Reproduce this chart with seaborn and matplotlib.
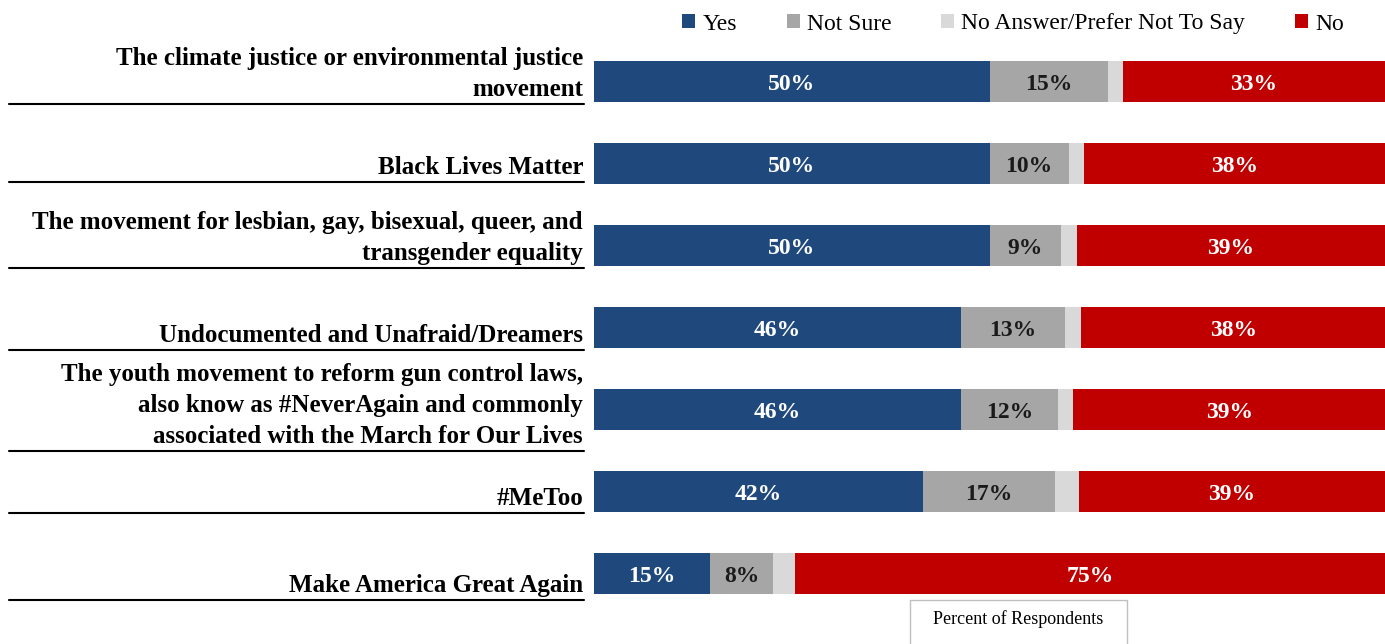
import matplotlib
matplotlib.use("Agg")
import matplotlib.pyplot as plt
import matplotlib.transforms as mtransforms
from matplotlib.patches import Rectangle, Patch
from matplotlib.lines import Line2D
import seaborn as sns
import pandas as pd
import numpy as np

# ---------------- data ----------------
categories = [
    "The climate justice or environmental justice\nmovement",
    "Black Lives Matter",
    "The movement for lesbian, gay, bisexual, queer, and\ntransgender equality",
    "Undocumented and Unafraid/Dreamers",
    "The youth movement to reform gun control laws,\nalso know as #NeverAgain and commonly\nassociated with the March for Our Lives",
    "#MeToo",
    "Make America Great Again",
]
series_names = ["Yes", "Not Sure", "No Answer/Prefer Not To Say", "No"]
yes = [50.0, 50.0, 50.0, 46.4, 46.4, 41.6, 14.7]
not_sure = [15.0, 10.0, 9.0, 13.2, 12.2, 16.7, 7.9]
no_answer = [1.9, 2.0, 2.0, 2.0, 2.0, 3.0, 2.8]
no = [33.1, 38.0, 39.0, 38.4, 39.4, 38.7, 74.6]
xlabel = "Percent of Respondents"

# ---------------- styles ----------------
colors = ["#1F497D", "#A6A6A6", "#D9D9D9", "#C00000"]
label_colors = ["white", "#1a1a1a", None, "white"]
underline_offsets = [0.274, 0.226, 0.274, 0.274, 0.506, 0.262, 0.323]

sns.set_theme(style="white")
plt.rcParams["font.family"] = ["Liberation Serif", "DejaVu Serif"]
plt.rcParams["text.color"] = "black"

W, H = 1385, 644
fig = plt.figure(figsize=(W / 100, H / 100), dpi=100)
ax = fig.add_axes([594 / W, 1 - 614.5 / H, 791 / W, 574 / H])

series = [yes, not_sure, no_answer, no]
df = pd.DataFrame({"category": categories})
cum = np.zeros(len(categories))
lefts = []
for name, vals in zip(series_names, series):
    lefts.append(cum.copy())
    cum = cum + np.array(vals)
    df[name] = cum.copy()

# draw cumulative bars from longest to shortest so they stack visually
for name, col in reversed(list(zip(series_names, colors))):
    sns.barplot(data=df, x=name, y="category", order=categories, orient="h",
                color=col, saturation=1, width=0.5, linewidth=0, ax=ax)

ax.set_xlim(0, 100)
ax.set_ylim(len(categories) - 0.5, -0.5)
for s in ax.spines.values():
    s.set_visible(False)
ax.set_xticks([])
ax.set_yticks([])
ax.set_xlabel("")
ax.set_ylabel("")

# segment labels
for si, (vals, lc) in enumerate(zip(series, label_colors)):
    if lc is None:
        continue
    for i, v in enumerate(vals):
        ax.text(lefts[si][i] + v / 2, i, f"{v:.0f}%", ha="center",
                va="center_baseline", color=lc, fontsize=17, fontweight="bold")

# category labels with underlines
blend = mtransforms.blended_transform_factory(fig.transFigure, ax.transData)
for i, (cat, off) in enumerate(zip(categories, underline_offsets)):
    yline = i + off
    ax.add_line(Line2D([9 / W, 584 / W], [yline, yline], transform=blend,
                       color="black", lw=1.5, clip_on=False))
    ax.annotate(cat, xy=(583 / W, yline), xycoords=blend, xytext=(0, 3),
                textcoords="offset pixels", ha="right", va="bottom",
                fontsize=18, fontweight="bold", linespacing=1.45,
                annotation_clip=False)

# legend
handles = [Patch(facecolor=c, edgecolor="none") for c in colors]
fig.legend(handles, series_names, loc="center", ncol=4,
           bbox_to_anchor=(1013 / W, 1 - 24 / H), frameon=False,
           fontsize=17, handlelength=0.56, handleheight=0.56,
           handletextpad=0.3, columnspacing=2.1, borderaxespad=0)

# x-axis title box
fig.patches.append(Rectangle((910 / W, -0.02), 217 / W, 44 / H + 0.02,
                             transform=fig.transFigure, facecolor="white",
                             edgecolor="#BFBFBF", lw=1))
fig.text(1018 / W, 1 - 619 / H, xlabel, ha="center", va="center", fontsize=13)

fig.savefig("out.png", dpi=100)
